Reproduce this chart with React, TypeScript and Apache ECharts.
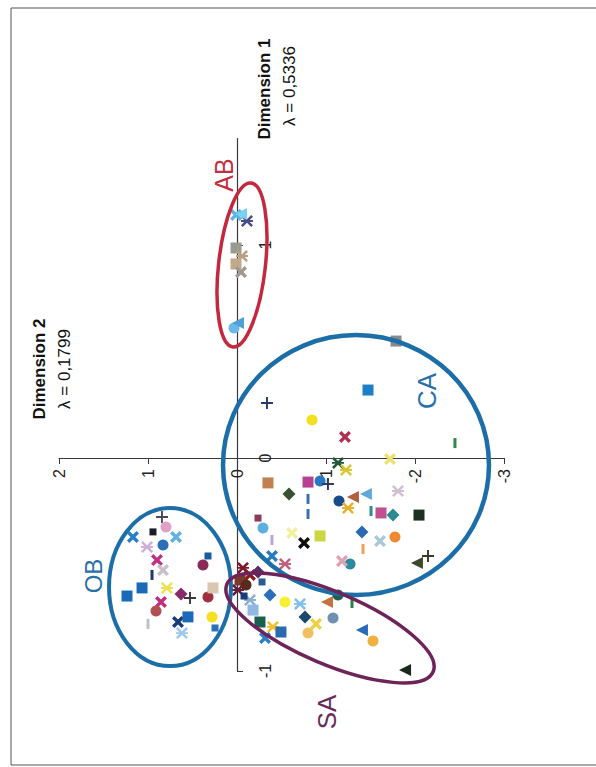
import React, { useEffect, useRef } from "react";
import * as echarts from "echarts";

// Axis ticks (the page is scanned rotated: Dimension 2 runs horizontally, Dimension 1 vertically)
const dim2Ticks = [-3, -2, -1, 0, 1, 2];
const dim1Ticks = [-1, 0, 1];

// Points [Dimension 2, Dimension 1]
const abValues = [
  [0.011, 1.141], [-0.112, 1.113], [-0.045, 1.146], [0.011, 0.986], [-0.056, 0.948],
  [0.011, 0.911], [-0.045, 0.873], [0.034, 0.61], [-0.011, 0.634],
];
const abSymbols = ["x", "st", "tr", "sq", "st", "sq", "x", "ci", "tr"];
const abColors = ["#5ab4e8", "#4a4a8a", "#7ad0f0", "#9a9a90", "#b8a080", "#c0a888", "#a09890", "#6ab8e8", "#50a0d8"];

const caValues = [
  [-1.787, 0.549], [-1.472, 0.319], [-0.337, 0.258], [-0.843, 0.178], [-1.213, 0.099],
  [-2.449, 0.07], [-1.135, -0.023], [-1.225, -0.056], [-1.719, -0.005], [-0.348, -0.117],
  [-0.798, -0.113], [-0.933, -0.108], [-1.022, -0.122], [-0.584, -0.169], [-1.809, -0.155],
  [-0.798, -0.192], [-0.798, -0.263], [-1.146, -0.202], [-1.303, -0.183], [-1.449, -0.169],
  [-1.247, -0.235], [-1.506, -0.249], [-1.618, -0.258], [-1.753, -0.268], [-2.045, -0.268],
  [-0.292, -0.329], [-0.236, -0.282], [-0.393, -0.385], [-0.618, -0.352], [-0.753, -0.399],
  [-0.933, -0.366], [-1.404, -0.347], [-1.416, -0.427], [-1.607, -0.39], [-1.775, -0.371],
  [-2.022, -0.493], [-2.146, -0.46], [-1.27, -0.498], [-1.18, -0.484], [-0.393, -0.46],
  [-0.539, -0.498],
];
const caSymbols = [
  "sq", "sq", "pl", "ci", "x", "da", "st", "st", "x", "sq",
  "sq", "ci", "pl", "di", "st", "da", "da", "ci", "tr", "tr",
  "st", "da", "sq", "di", "sq", "ci", "sm", "da", "x", "x",
  "sq", "di", "da", "x", "ci", "tr", "pl", "ci", "x", "x",
  "st",
];
const caColors = [
  "#8a8a8a", "#1a7ec8", "#2a3a6a", "#f0e020", "#b03050", "#2a8a4a", "#1e5a3a", "#d8c830", "#f0e070", "#c08050",
  "#b84090", "#2a78c0", "#2a3a6a", "#3a5030", "#d0c0d0", "#3a70b0", "#3a70b0", "#1a4a8a", "#b06040", "#60a8d8",
  "#e8b030", "#2a8a9a", "#c05090", "#2a8a90", "#1a3020", "#5ab0e0", "#8a3a5a", "#b8a8d8", "#f0f0a0", "#101010",
  "#c8d840", "#2a6ab0", "#f0a050", "#a8c8d8", "#f08a30", "#3a4a2a", "#3a3a2a", "#2a8aa0", "#e0a0b0", "#2a7ac0",
  "#c06080",
];

const saValues = [
  [-0.067, -0.516], [-0.146, -0.549], [-0.034, -0.573], [-0.236, -0.535], [-0.101, -0.596],
  [-0.281, -0.582], [-0.011, -0.62],
  [-0.146, -0.667], [-0.079, -0.648], [-0.371, -0.643], [-0.539, -0.676], [-0.708, -0.685],
  [-1.135, -0.643], [-1.011, -0.676], [-1.292, -0.681], [-1.079, -0.751], [-0.258, -0.77],
  [-0.404, -0.793], [-0.494, -0.817], [-0.315, -0.845], [-0.764, -0.746], [-0.888, -0.779],
  [-0.798, -0.822], [-1.404, -0.808], [-1.528, -0.859], [-1.888, -0.995], [-0.18, -0.714],
];
const saSymbols = [
  "st", "x", "sq", "di", "ci", "sm", "st",
  "st", "sm", "di", "ci", "st", "ci", "tr", "da", "ci", "sq",
  "st", "sq", "x", "di", "x", "ci", "tr", "ci", "tr", "sq",
];
const saColors = [
  "#7a1a2a", "#8a1a1a", "#7a3a2a", "#5a2a6a", "#5a2a1a", "#2a5a9a", "#6a1a3a",
  "#8ab0d0", "#1a3a7a", "#2a70b8", "#f5f030", "#80c0e8", "#1e6050", "#c87040", "#2a8040", "#7090b0", "#1a6050",
  "#f0c030", "#2a6ab0", "#2a80c8", "#1a4a6a", "#f0d040", "#f0c060", "#2a6ab8", "#f0b040", "#1a2a1a", "#90b8e0",
];

const obValues = [
  [0.843, -0.277], [0.798, -0.324], [1.169, -0.371], [0.944, -0.347], [0.685, -0.371],
  [1.011, -0.418], [0.831, -0.408], [0.899, -0.479], [0.382, -0.502], [0.326, -0.46],
  [0.955, -0.549], [0.831, -0.526], [1.236, -0.648], [1.067, -0.61], [0.787, -0.61],
  [0.629, -0.638], [0.528, -0.657], [0.854, -0.676], [0.91, -0.718], [0.326, -0.653],
  [0.27, -0.61], [0.281, -0.746], [0.663, -0.77], [0.551, -0.746], [1.0, -0.779],
  [0.618, -0.822], [0.247, -0.798],
];
const obSymbols = [
  "pl", "ci", "x", "sm", "x", "st", "ci", "x", "ci", "sm",
  "da", "x", "sq", "sq", "st", "di", "pl", "x", "ci", "ci",
  "sq", "ci", "x", "sq", "da", "st", "sm",
];
const obColors = [
  "#4a4a5a", "#e0a0c8", "#2a80c8", "#1a1a2a", "#60b0e8", "#d0b0d8", "#2a70b8", "#c03080", "#8b2a5a", "#1a5aa0",
  "#1a3a6a", "#c8c0c8", "#1a6ab8", "#1a6ab8", "#f0e050", "#8a2a6a", "#3a3a3a", "#c0307a", "#b05050", "#a03040",
  "#d8c8b0", "#f5e020", "#1a3a7a", "#1a6ab8", "#c0c0c8", "#a0c8e8", "#2a70b8",
];

// Group ellipses: centre [Dim 2, Dim 1], semi-axes [Dim 2, Dim 1], tilt (degrees)
const ellipseNames = ["OB", "CA", "SA", "AB"];
const ellipseCenters = [[0.753, -0.606], [-1.337, -0.033], [-1.045, -0.798], [-0.056, 0.906]];
const ellipseRadii = [[0.685, 0.371], [1.494, 0.61], [1.258, 0.169], [0.263, 0.387]];
const ellipseTilt = [0, 0, -23, -6.3];

const ellipseColors = ["#1b6ea8", "#1b6ea8", "#6e2359", "#c4283e"];
const ellipseWidths = [4, 4.5, 3.5, 3.5];

const FONT = "'Liberation Sans', Arial, sans-serif";

const X_PATH = "path://M2,0L5,3L8,0L10,2L7,5L10,8L8,10L5,7L2,10L0,8L3,5L0,2Z";
const ST_PATH =
  "path://M1.5,0L5,3.5L8.5,0L10,1.5L6.5,5L10,8.5L8.5,10L5,6.5L1.5,10L0,8.5L3.5,5L0,1.5Z M0,4.2L10,4.2L10,5.8L0,5.8Z";
const PL_PATH = "path://M4.2,0L5.8,0L5.8,4.2L10,4.2L10,5.8L5.8,5.8L5.8,10L4.2,10L4.2,5.8L0,5.8L0,4.2L4.2,4.2Z";

function symbolOf(k: string) {
  switch (k) {
    case "sq": return { symbol: "rect", symbolSize: 11, symbolRotate: 0 };
    case "sm": return { symbol: "rect", symbolSize: 7, symbolRotate: 0 };
    case "ci": return { symbol: "circle", symbolSize: 11, symbolRotate: 0 };
    case "di": return { symbol: "diamond", symbolSize: 13, symbolRotate: 0 };
    case "tr": return { symbol: "triangle", symbolSize: 12, symbolRotate: 90 };
    case "x": return { symbol: X_PATH, symbolSize: 12, symbolRotate: 0 };
    case "st": return { symbol: ST_PATH, symbolSize: 12, symbolRotate: 0 };
    case "pl": return { symbol: PL_PATH, symbolSize: 12, symbolRotate: 0 };
    case "da": return { symbol: "rect", symbolSize: [3, 10], symbolRotate: 0 };
    default: return { symbol: "circle", symbolSize: 10, symbolRotate: 0 };
  }
}

function buildScatter(name: string, values: number[][], symbols: string[], colors: string[]) {
  return {
    name,
    type: "scatter",
    z: 3,
    data: values.map((v, i) => ({
      value: v,
      ...symbolOf(symbols[i]),
      itemStyle: { color: colors[i], opacity: 1 },
    })),
  };
}

function rotText(text: string, x: number, y: number, size: number, color: string, bold = false) {
  return {
    type: "text",
    x,
    y,
    rotation: Math.PI / 2,
    silent: true,
    z: 10,
    style: {
      text,
      fill: color,
      font: `${bold ? "bold " : ""}${size}px ${FONT}`,
      textAlign: "center",
      textVerticalAlign: "middle",
    },
  };
}

// grid geometry: Dim 2 from 2 (left) to -3 (right); Dim 1 from -1 (bottom) to 1.5 (top)
const GRID = { left: 59, right: 92, top: 138.5, bottom: 96 };

export default function App() {
  const ref = useRef<HTMLDivElement>(null);

  useEffect(() => {
    if (!ref.current) return;
    const chart = echarts.init(ref.current, null, { renderer: "svg" });

    const axisLabelStyle = { fontSize: 16, color: "#222", fontFamily: FONT };
    const plotW = 596 - GRID.left - GRID.right;
    const plotH = 767 - GRID.top - GRID.bottom;
    // shift each axis from the grid edge to the other axis's zero
    const xOffset = -plotH * (0 - -1) / (1.5 - -1);
    const yOffset = -plotW * (0 - -3) / (2 - -3);

    chart.setOption({
      animation: false,
      backgroundColor: "#ffffff",
      textStyle: { fontFamily: FONT },
      grid: { ...GRID, containLabel: false },
      xAxis: {
        type: "value",
        inverse: true,
        min: -3,
        max: 2,
        interval: 1,
        position: "bottom",
        offset: xOffset,
        axisLine: { show: true, onZero: false, lineStyle: { color: "#3a3a3a", width: 1.2 } },
        axisTick: { show: true, inside: false, length: 6, lineStyle: { color: "#3a3a3a" }, customValues: dim2Ticks },
        axisLabel: { ...axisLabelStyle, rotate: 90, margin: 11, customValues: dim2Ticks, hideOverlap: false },
        splitLine: { show: false },
      },
      yAxis: {
        type: "value",
        min: -1,
        max: 1.5,
        interval: 1,
        position: "right",
        offset: yOffset,
        axisLine: { show: true, onZero: false, lineStyle: { color: "#3a3a3a", width: 1.2 } },
        axisTick: { show: true, inside: false, length: 6, lineStyle: { color: "#3a3a3a" }, customValues: dim1Ticks },
        axisLabel: { ...axisLabelStyle, rotate: 90, margin: 20, customValues: dim1Ticks, hideOverlap: false },
        splitLine: { show: false },
      },
      series: [
        buildScatter("OB", obValues, obSymbols, obColors),
        buildScatter("CA", caValues, caSymbols, caColors),
        buildScatter("SA", saValues, saSymbols, saColors),
        buildScatter("AB", abValues, abSymbols, abColors),
        {
          name: "groups",
          type: "custom",
          z: 5,
          clip: false,
          silent: true,
          data: ellipseCenters.map((c, i) => [c[0], c[1], ellipseRadii[i][0], ellipseRadii[i][1], ellipseTilt[i]]),
          renderItem: (params: any, api: any) => {
            const i = params.dataIndex;
            const p = api.coord([api.value(0), api.value(1)]);
            const s = api.size([api.value(2), api.value(3)]);
            return {
              type: "ellipse",
              x: p[0],
              y: p[1],
              rotation: (api.value(4) * Math.PI) / 180,
              shape: { cx: 0, cy: 0, rx: s[0], ry: s[1] },
              style: { fill: "none", stroke: ellipseColors[i], lineWidth: ellipseWidths[i] },
            };
          },
        },
      ],
      graphic: [
        {
          type: "rect",
          silent: true,
          shape: { x: 11, y: 8, width: 600, height: 757 },
          style: { fill: "none", stroke: "#555", lineWidth: 1 },
        },
        rotText("Dimension 2", 39, 369, 17, "#111", true),
        rotText("λ = 0,1799", 64, 369, 17, "#111"),
        rotText("Dimension 1", 264, 89, 17, "#111", true),
        rotText("λ = 0,5336", 289, 86, 17, "#111"),
        rotText(ellipseNames[0], 93, 576, 24, "#2a6fa8"),
        rotText(ellipseNames[1], 427, 391, 26, "#2a6fa8"),
        rotText(ellipseNames[2], 327, 712, 26, "#6a2a5a"),
        rotText(ellipseNames[3], 224, 175, 25, "#c03040"),
      ],
    });

    return () => chart.dispose();
  }, []);

  return (
    <div
      ref={ref}
      style={{ position: "fixed", left: 0, top: 0, width: 596, height: 767, background: "#fff" }}
    />
  );
}
